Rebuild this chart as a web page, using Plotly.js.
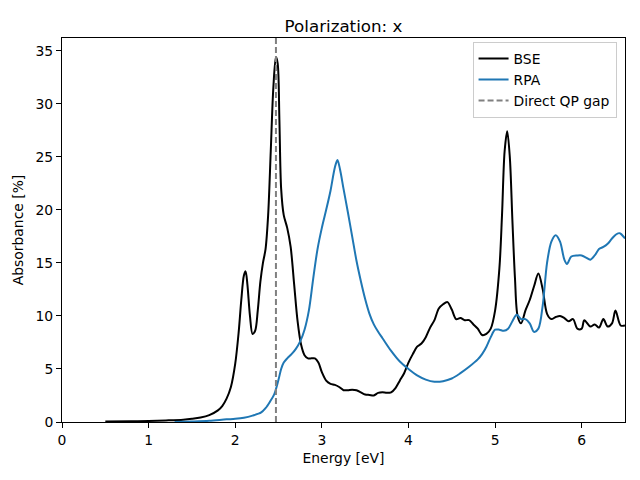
<!DOCTYPE html>
<html>
<head>
<meta charset="utf-8">
<script src="https://cdn.plot.ly/plotly-3.0.1.min.js"></script>
<style>html,body{margin:0;padding:0;background:#fff;}#chart{width:640px;height:480px;}</style>
</head>
<body>
<div id="chart"></div>
<script>
const bseEnergy = [0.5,0.8,1.0,1.2,1.4,1.5,1.6,1.7,1.8,1.85,1.9,1.95,2.0,2.04,2.07,2.1,2.12,2.14,2.17,2.2,2.23,2.26,2.29,2.32,2.35,2.38,2.41,2.44,2.47,2.49,2.51,2.53,2.56,2.6,2.64,2.68,2.72,2.76,2.8,2.84,2.88,2.92,2.96,3.0,3.05,3.1,3.15,3.2,3.25,3.3,3.35,3.4,3.45,3.5,3.55,3.6,3.65,3.7,3.75,3.8,3.85,3.9,3.95,4.0,4.05,4.1,4.15,4.2,4.25,4.3,4.35,4.4,4.45,4.5,4.55,4.6,4.65,4.7,4.75,4.8,4.85,4.9,4.95,5.0,5.05,5.08,5.11,5.14,5.17,5.2,5.23,5.26,5.3,5.35,5.4,5.45,5.5,5.55,5.6,5.65,5.7,5.75,5.8,5.85,5.9,5.95,6.0,6.03,6.1,6.15,6.2,6.25,6.3,6.35,6.39,6.45,6.5];
const bseAbs = [0.05,0.07,0.1,0.15,0.22,0.3,0.42,0.65,1.1,1.5,2.2,3.3,5.5,8.5,11.5,13.8,14.2,13.0,10.0,8.3,8.6,10.5,13.2,15.0,16.3,19.5,25.5,31.5,34.4,33.8,28.5,22.0,19.5,18.3,16.5,13.0,9.5,7.3,6.3,6.0,6.0,6.0,5.6,4.7,3.9,3.6,3.5,3.3,3.0,3.0,3.05,3.0,2.8,2.6,2.55,2.5,2.75,2.8,2.75,2.8,3.2,3.9,4.6,5.6,6.4,7.1,7.4,8.0,8.9,9.6,10.7,11.1,11.3,10.6,9.7,9.8,9.6,9.6,9.2,8.8,8.2,8.3,8.8,10.5,14.5,19.5,25.5,27.4,25.0,19.0,13.5,10.0,9.3,10.5,11.5,12.8,14.0,12.5,10.2,9.7,9.9,10.0,9.8,9.5,9.7,8.8,8.8,9.6,9.0,9.2,8.9,9.7,9.0,9.3,10.5,9.1,9.1];
const rpaEnergy = [1.3,1.5,1.7,1.9,2.0,2.1,2.2,2.3,2.35,2.4,2.45,2.5,2.53,2.56,2.6,2.65,2.7,2.75,2.8,2.85,2.9,2.95,3.0,3.05,3.1,3.15,3.18,3.21,3.25,3.3,3.35,3.4,3.45,3.5,3.55,3.6,3.65,3.7,3.8,3.9,4.0,4.1,4.2,4.3,4.4,4.5,4.6,4.7,4.8,4.85,4.9,4.95,5.0,5.05,5.1,5.15,5.2,5.25,5.3,5.35,5.4,5.45,5.5,5.55,5.6,5.65,5.7,5.75,5.8,5.83,5.88,5.95,6.0,6.05,6.1,6.15,6.2,6.25,6.3,6.35,6.4,6.44,6.5];
const rpaAbs = [0.0,0.05,0.12,0.25,0.3,0.4,0.6,0.9,1.3,1.9,2.6,4.0,5.0,5.6,6.0,6.4,6.9,7.6,8.7,10.5,13.5,16.3,18.3,20.0,21.8,24.0,24.7,23.8,22.0,19.8,17.5,15.2,13.3,11.6,10.2,9.2,8.5,7.9,6.7,5.7,5.0,4.4,4.0,3.8,3.85,4.1,4.6,5.2,5.9,6.4,7.1,8.0,8.7,8.7,8.6,8.8,9.5,10.1,9.7,9.7,9.3,8.5,8.8,11.0,15.0,17.0,17.6,17.0,15.3,14.9,15.6,15.7,15.7,15.5,15.3,15.7,16.3,16.5,16.8,17.3,17.7,17.8,17.3];
const gapEnergy = [2.47];
const xRange = [0, 6.5];
const yRange = [0, 36.2];
const xTicks = [0,1,2,3,4,5,6];
const yTicks = [0,5,10,15,20,25,30,35];

const font = "DejaVu Sans, sans-serif";
const traces = [
  {x: bseEnergy, y: bseAbs, mode: 'lines', name: 'BSE', line: {color: '#000000', width: 2, shape: 'spline', smoothing: 0.9}},
  {x: rpaEnergy, y: rpaAbs, mode: 'lines', name: 'RPA', line: {color: '#1f77b4', width: 2, shape: 'spline', smoothing: 0.9}},
  {x: [gapEnergy[0], gapEnergy[0]], y: yRange, mode: 'lines', name: 'Direct QP gap', line: {color: '#808080', width: 2, dash: '6px,3px'}}
];
const layout = {
  width: 640, height: 480,
  margin: {l: 62, r: 15, t: 38, b: 58},
  paper_bgcolor: '#fff', plot_bgcolor: '#fff',
  font: {family: font, size: 13.9, color: '#000'},
  title: {text: 'Polarization: x', font: {family: font, size: 16.7, color: '#000'}, x: 0.5, xref: 'paper', xanchor: 'center', y: 1, yref: 'paper', yanchor: 'bottom', pad: {b: 6}},
  xaxis: {range: xRange, tickvals: xTicks, ticks: 'outside', ticklen: 5, tickcolor: '#000', showgrid: false, zeroline: false, showline: true, linecolor: '#000', linewidth: 1, mirror: true,
    title: {text: 'Energy [eV]', font: {family: font, size: 13.9}, standoff: 6}},
  yaxis: {range: yRange, tickvals: yTicks, ticks: 'outside', ticklen: 5, tickcolor: '#000', showgrid: false, zeroline: false, showline: true, linecolor: '#000', linewidth: 1, mirror: true,
    title: {text: 'Absorbance [%]', font: {family: font, size: 13.9}, standoff: 8}},
  legend: {x: 0.985, y: 0.99, xanchor: 'right', yanchor: 'top', bgcolor: 'rgba(255,255,255,0.8)', bordercolor: '#cccccc', borderwidth: 1, font: {family: font, size: 13.9}, tracegroupgap: 0},
  showlegend: true
};
Plotly.newPlot('chart', traces, layout, {staticPlot: true});
</script>
</body>
</html>
